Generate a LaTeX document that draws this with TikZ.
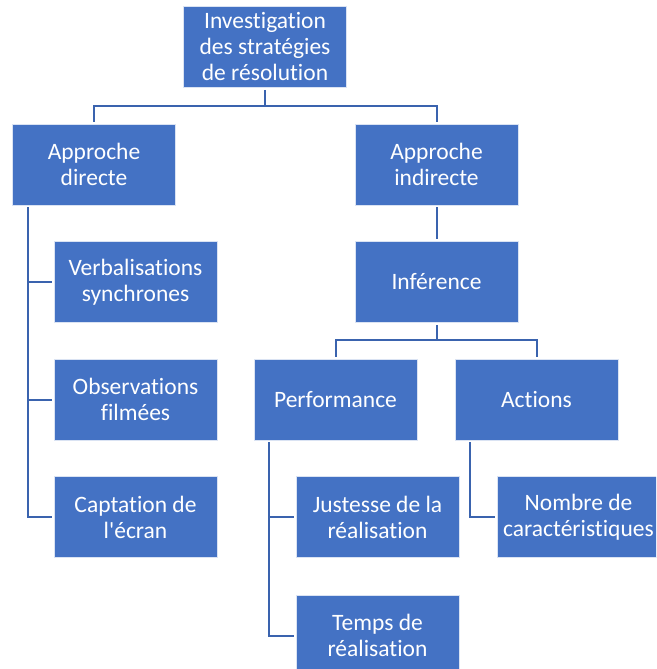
\documentclass[tikz,border=0pt]{standalone}
\usepackage{fontspec}
\setmainfont{Carlito}[Ligatures={NoCommon}]
\definecolor{boxblue}{HTML}{4472C4}
\definecolor{lineblue}{HTML}{3A63AE}
\begin{document}
\begin{tikzpicture}[x=1pt,y=-1pt,
  box/.style={draw=white!80!boxblue,line width=0.6pt,fill=boxblue,text=white,minimum width=163pt,minimum height=81pt,align=center,inner sep=0pt,font=\fontsize{23.5}{26}\selectfont},
  conn/.style={draw=lineblue,line width=2pt}]
\useasboundingbox (0,0) rectangle (656,669);
\clip (0,0) rectangle (656,669);
\node[box] (top) at (265,47) {Investigation\\des stratégies\\de résolution};
\node[box] (ad) at (94,164.5) {Approche\\directe};
\node[box] (ai) at (436.5,164.5) {Approche\\indirecte};
\node[box] (v) at (135.5,282) {Verbalisations\\synchrones};
\node[box] (o) at (135.5,399.5) {Observations\\filmées};
\node[box] (c) at (135.5,517) {Captation de\\l\textquotesingle écran};
\node[box] (inf) at (436.5,282) {Inférence};
\node[box] (perf) at (335.5,399.5) {Performance};
\node[box] (act) at (536.5,399.5) {Actions};
\node[box] (j) at (377.5,517) {Justesse de la\\réalisation};
\node[box] (t) at (377.5,635.5) {Temps de\\réalisation};
\node[box] (n) at (578.5,517) {Nombre de\\caractéristiques};
% top level
\draw[conn] ([yshift=-2pt]top.south) -- (top.south |- 0,106) -| ([yshift=2pt]ad.north);
\draw[conn] (top.south |- 0,106) -| ([yshift=2pt]ai.north);
\draw[conn] ([yshift=-2pt]ai.south) -- ([yshift=2pt]inf.north);
\draw[conn] ([yshift=-2pt]inf.south) -- (inf.south |- 0,340) -| ([yshift=2pt]perf.north);
\draw[conn] (inf.south |- 0,340) -| ([yshift=2pt]act.north);
% left tree
\draw[conn] ([yshift=-2pt]ad.south -| 28,0) |- ([xshift=-2pt]c.west);
\draw[conn] ([xshift=-2pt]v.west) -- (v.west -| 28,0);
\draw[conn] ([xshift=-2pt]o.west) -- (o.west -| 28,0);
% performance tree
\draw[conn] ([yshift=-2pt]perf.south -| 269,0) |- ([xshift=-2pt]t.west);
\draw[conn] ([xshift=-2pt]j.west) -- (j.west -| 269,0);
% actions tree
\draw[conn] ([yshift=-2pt]act.south -| 470,0) |- ([xshift=-2pt]n.west);
\end{tikzpicture}
\end{document}
